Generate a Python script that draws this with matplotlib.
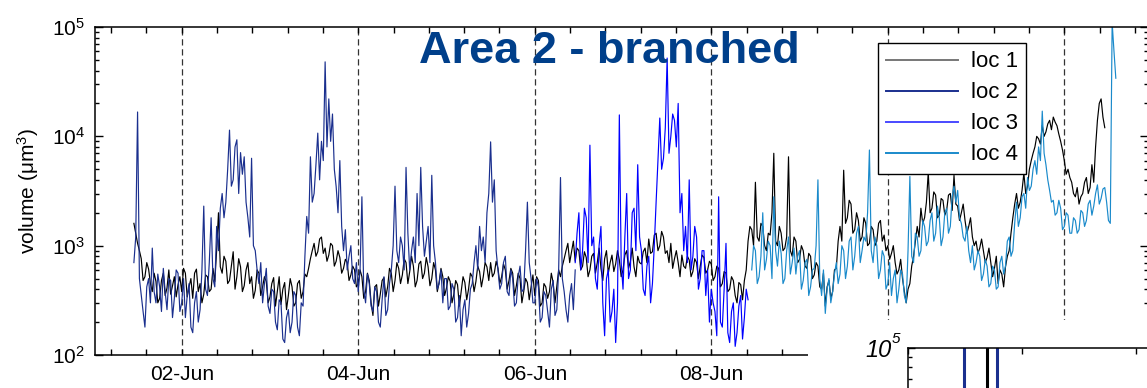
import numpy as np
import matplotlib
matplotlib.use("Agg")
import matplotlib.pyplot as plt
import matplotlib.dates as mdates
from matplotlib.ticker import FixedLocator, FuncFormatter, LogLocator, NullFormatter
from matplotlib.patches import Rectangle
from matplotlib.lines import Line2D

plt.rcParams.update({
    "font.family": ["Liberation Sans", "DejaVu Sans"],
    "mathtext.fontset": "custom",
    "mathtext.rm": "Liberation Sans",
    "mathtext.it": "Liberation Sans:italic",
    "mathtext.bf": "Liberation Sans:bold",
    "mathtext.default": "regular",
})

# ---------------------------------------------------------------- data
# half-hourly volumes (um^3); each series starts at the given hour after 01-Jun 00:00
T0 = np.datetime64("2012-06-01T00:00")
STEP_MIN = 30

loc1_first_hour = 11
loc1 = [
    1600, 1300, 1050, 900, 760, 480, 520, 700, 610, 450, 380, 560, 470, 300, 330, 480,
    560, 350, 410, 600, 360, 430, 520, 340, 440, 520,
    380, 620, 560, 340, 420, 500, 330, 560, 610, 380, 450, 300, 360, 540, 520, 380,
    400, 620, 470, 900, 2000, 640, 560, 800,
    720, 450, 480, 650, 880, 400, 520, 760, 640, 380, 430, 600, 700, 450, 520, 330,
    390, 600, 560, 350, 420, 520, 470, 300,
    340, 450, 510, 280, 380, 520, 290, 400, 460, 260, 350, 500, 420, 280, 300, 450,
    480, 330, 380, 550, 520, 620, 760, 900,
    1050, 800, 880, 1150, 1200, 850, 950, 720, 820, 1050, 1000, 650, 720, 900, 780, 560,
    620, 750, 700, 480, 540, 650, 600, 420,
    450, 600, 520, 330, 380, 560, 480, 300, 230, 420, 440, 280, 360, 480, 510, 340,
    420, 620, 560, 380, 480, 700, 620, 450,
    540, 760, 700, 450, 580, 800, 650, 420, 480, 680, 720, 500, 560, 780, 640, 430,
    500, 700, 600, 380, 460, 620, 520, 350,
    410, 520, 470, 300, 360, 480, 440, 280, 380, 520, 460, 320, 400, 560, 520, 380,
    470, 650, 580, 420, 520, 700, 640, 480,
    700, 520, 560, 720, 620, 450, 520, 680, 600, 400, 480, 620, 560, 350, 430, 560,
    500, 300, 380, 500, 460, 320, 420, 540,
    350, 520, 480, 280, 300, 450, 420, 330, 380, 560, 460, 300, 420, 600, 520, 650,
    760, 900, 1050, 700, 880, 1100, 720, 950,
    900, 600, 650, 880, 780, 520, 600, 800, 850, 560, 700, 950, 620, 480, 760, 900,
    560, 700, 820, 580, 680, 900, 740, 520,
    600, 820, 900, 620, 720, 950, 640, 520, 800, 700, 680, 880, 950, 700, 1150, 850,
    880, 1250, 1300, 900, 1000, 1350, 1200, 850,
    900, 700, 1050, 620, 760, 900, 700, 520, 820, 650, 620, 800, 740, 520, 580, 760,
    700, 500, 650, 820, 780, 560, 600, 720,
    680, 480, 520, 650, 620, 420, 450, 580, 560, 380, 400, 520, 480, 350, 300, 460,
    440, 320, 480, 600, 1100, 1500, 1400, 1000,
    3800, 1200, 1100, 1600, 1500, 1000, 900, 1300, 1250, 2000, 7000, 1100, 1000, 1500, 1300, 900,
    950, 1200, 6500, 900, 800, 1200, 1100, 700,
    750, 1000, 900, 650, 620, 850, 800, 500, 540, 700, 650, 420, 400, 560, 280, 420,
    480, 330, 380, 600, 620, 1100, 1500, 1100,
    4900, 1600, 1800, 2600, 2400, 1300, 1400, 2000, 1700, 1100, 1200, 1800, 1600, 1000, 1050, 1500,
    1400, 1000, 1100, 1600, 1700, 1100, 1250, 900,
    1000, 750, 850, 1000, 700, 550, 600, 750, 500, 380, 300, 400, 450, 650, 800, 1100,
    1500, 1200, 2200, 1600, 1800, 2500, 4700, 2000,
    2200, 3100, 2900, 1800, 1900, 2700, 2600, 1900, 2100, 2900, 3000, 2100, 4400, 2400, 2300, 1700,
    2000, 2400, 1700, 1300, 1500, 1800, 1200, 1000,
    1100, 850, 950, 1150, 900, 700, 780, 950, 700, 520, 620, 800, 450, 600, 550, 420,
    640, 800, 900, 1300, 1800, 2400, 3000, 2200,
    2500, 3200, 4600, 3000, 3500, 5000, 6000, 7000, 8000, 10000, 9500, 8500, 12600, 10000, 11000, 13000,
    14000, 11500, 15000, 13500, 12500, 10500, 9000, 7500,
    6000, 4500, 5000, 4200, 3800, 3000, 2800, 3400, 2400, 2800, 3000, 3800, 4200, 3000, 3400, 5500,
    3800, 8000, 14000, 20000, 22000, 15000, 12000,
]

loc2_first_hour = 11
loc2 = [
    700, 1200, 16700, 500, 350, 250, 180, 420, 500, 300, 950, 380, 300, 550, 420, 250,
    620, 380, 260, 500, 480, 220, 330, 600, 560, 250,
    300, 500, 220, 350, 450, 180, 160, 300, 380, 200, 260, 600, 2300, 400, 350, 700,
    1800, 500, 420, 1500, 900, 2200, 3000, 1800,
    2500, 5000, 11400, 3500, 4000, 8000, 9300, 3000, 7100, 4500, 6500, 2500, 1800, 1200, 6300, 1000,
    900, 600, 450, 700, 300, 450, 620, 280,
    240, 400, 380, 200, 170, 320, 300, 140, 130, 220, 260, 160, 200, 380, 350, 180,
    150, 300, 280, 800, 1850, 1300, 6500, 2500,
    3000, 5500, 10700, 4000, 9000, 6000, 48000, 8000, 22000, 9000, 16000, 5000, 3470, 2000, 6000, 1500,
    900, 1400, 600, 800, 1000, 500, 450, 700,
    380, 600, 2800, 400, 300, 550, 450, 280, 250, 420, 380, 200, 180, 320, 520, 230,
    260, 450, 600, 1000, 3500, 900, 700, 1200,
    1000, 600, 5200, 1300, 600, 900, 1200, 700, 3000, 1000, 5200, 1500, 800, 1100, 1500, 700,
    4400, 1000, 700, 400, 450, 600, 300, 500,
    500, 260, 280, 450, 400, 200, 220, 350, 150, 260, 320, 180, 240, 400, 450, 700,
    1000, 600, 1500, 900, 1200, 700, 2000, 3000,
    8900, 2500, 4000, 900, 600, 400, 450, 700, 800, 380, 350, 600, 500, 280, 300, 520,
    650, 380, 400, 900, 2500, 700, 500, 300,
    300, 500, 420, 200, 220, 380, 350, 250, 180, 400, 480, 230, 260, 600, 4200, 500,
    380, 260, 200, 350, 450, 260, 600,
]

loc3_first_hour = 131
loc3 = [
    700, 1300, 2000, 600, 900, 2200, 1800, 700, 8300, 1000, 1200, 500, 400, 1000, 1500, 300,
    150, 500, 600, 200, 250, 400, 130, 300,
    15700, 700, 400, 1200, 3000, 500, 600, 2000, 2200, 900, 5500, 1200, 900, 400, 350, 650,
    800, 300, 450, 1000, 2500, 6000, 14700, 5000,
    6300, 12000, 52000, 7000, 10000, 16000, 14000, 8000, 20000, 2000, 3000, 900, 1500, 700, 4000, 600,
    800, 1500, 1200, 400, 500, 900, 900, 350,
    600, 200, 400, 300, 250, 150, 2800, 200, 180, 400, 1050, 160, 130, 250, 300, 120,
    160, 280, 350, 140, 220, 400, 320,
]

loc4_first_hour = 179
loc4 = [
    600, 1000, 900, 450, 520, 800, 2000, 600, 750, 1100, 1000, 500, 2800, 900, 650, 1100,
    850, 450, 500, 900, 1200, 550, 700, 950,
    550, 800, 900, 400, 480, 700, 750, 350, 420, 600, 620, 1000, 4000, 500, 350, 600,
    240, 400, 500, 300, 380, 550, 700, 450,
    550, 1000, 900, 500, 650, 1100, 1200, 600, 800, 1300, 1500, 700, 900, 1200, 1100, 2000,
    7500, 900, 700, 1200, 1000, 500, 600, 900,
    800, 400, 450, 700, 350, 500, 600, 300, 400, 600, 550, 350, 300, 900, 4300, 800,
    700, 1300, 1200, 800, 900, 1700, 1500, 1000,
    1100, 1700, 2000, 1100, 1300, 2300, 1800, 1000, 1200, 2000, 2200, 1300, 1500, 2800, 3500, 2500,
    3200, 1800, 1600, 1200, 1100, 1500, 900, 700,
    1000, 600, 700, 900, 800, 480, 550, 750, 650, 420, 450, 650, 600, 400, 420, 700,
    800, 550, 650, 1100, 1200, 800, 900, 1600,
    2500, 1500, 1800, 2800, 3000, 2200, 4200, 3200, 3500, 5000, 6000, 4500, 8000, 6000, 17000, 7000,
    5500, 4000, 3200, 2500, 2600, 1900, 2000, 2600,
    2200, 1400, 1500, 2000, 1900, 1300, 1300, 1800, 1700, 1300, 1400, 2100, 2000, 1500, 1700, 2400,
    2600, 1900, 2300, 3000, 3600, 2400, 2700, 3300,
    3400, 2500, 1700, 1600, 110000, 60000, 34000,
]

series_labels = ["loc 1", "loc 2", "loc 3", "loc 4"]
series_colors = ["#000000", "#1a2f8e", "#0000ff", "#1a8acb"]
legend_colors = ["#777777", "#1a2f8e", "#4a4aff", "#1a8acb"]

marker_days = ["2012-06-02", "2012-06-04", "2012-06-06", "2012-06-08",
               "2012-06-10", "2012-06-12"]

# neighbouring panel (partly shown)
side_x = [0.49, 0.69, 0.78]
side_high = [3e5, 3e5, 3e5]
side_low = [1e3, 1e3, 1e3]
side_colors = ["#1a2f8e", "#000000", "#1a2f8e"]


def sampled(first_hour, values):
    t = (T0 + np.timedelta64(first_hour, "h")
         + np.arange(len(values)) * np.timedelta64(STEP_MIN, "m"))
    return t, np.asarray(values, dtype=float)


# ---------------------------------------------------------------- figure
W, H = 1147, 388
fig = plt.figure(figsize=(W / 100, H / 100), dpi=100)


def fx(px):
    return px / W


def fy(py):
    return 1 - py / H


ax = fig.add_axes([fx(95), fy(355), fx(1148) - fx(95), fy(27) - fy(355)])

for (first, vals), lab, col in zip(
        [(loc1_first_hour, loc1), (loc2_first_hour, loc2),
         (loc3_first_hour, loc3), (loc4_first_hour, loc4)],
        series_labels, series_colors):
    t, v = sampled(first, vals)
    ax.plot(t, v, color=col, lw=0.85, label=lab)

for d in marker_days:
    ax.axvline(np.datetime64(d), color="#333333", lw=0.9, dashes=(5, 3), zorder=0.5)

ax.set_yscale("log")
ax.set_ylim(1e2, 1e5)
x0 = mdates.date2num(np.datetime64("2012-06-01T00:00"))
ax.set_xlim(x0 + 0.0177, x0 + 11.948)

# ticks every 0.4 day, labelled on even days
day2 = mdates.date2num(np.datetime64("2012-06-02"))
ticks = day2 + 0.4 * np.arange(-2, 28)
ax.xaxis.set_major_locator(FixedLocator(ticks))


def fmt_date(x, pos):
    k = (x - day2) / 2
    if abs(k - round(k)) < 1e-6:
        return mdates.num2date(x).strftime("%d-%b")
    return ""


ax.xaxis.set_major_formatter(FuncFormatter(fmt_date))
ax.yaxis.set_major_locator(LogLocator(base=10, numticks=10))
ax.yaxis.set_minor_locator(LogLocator(base=10, subs=np.arange(2, 10), numticks=10))
ax.yaxis.set_minor_formatter(NullFormatter())

ax.tick_params(axis="both", which="both", direction="in", top=True, right=True,
               labelsize=15, width=1.0)
ax.tick_params(axis="x", which="major", length=4.5, pad=7)
ax.tick_params(axis="y", which="major", length=6, pad=7)
ax.tick_params(axis="y", which="minor", length=3)
for s in ax.spines.values():
    s.set_linewidth(1.1)

fig.text(fx(28), fy(191), r"volume ($\mu$m$^3$)", rotation=90, fontsize=15,
         ha="center", va="center")

fig.text(fx(609), fy(63), "Area 2 - branched", fontsize=32.5, fontweight="bold",
         color="#003f8a", ha="center", va="baseline", zorder=5)

handles = [Line2D([], [], color=c, lw=1.4) for c in legend_colors]
leg = ax.legend(handles, series_labels, loc="upper left",
                bbox_to_anchor=(fx(878), fy(43)), bbox_transform=fig.transFigure,
                fontsize=16, frameon=True, fancybox=False, framealpha=1,
                edgecolor="black", borderpad=0.38, labelspacing=0.45,
                handlelength=3.2, handletextpad=0.6, borderaxespad=0)
leg.get_frame().set_linewidth(1.0)

# blank strip beneath the right part of the panel
fig.add_artist(Rectangle((fx(808), 0), 1 - fx(808), fy(320), transform=fig.transFigure,
                         facecolor="white", edgecolor="none", zorder=1))

# neighbouring panel peeking in at the lower right
ax2 = fig.add_axes([fx(908), fy(648), fx(1150) - fx(908), fy(348) - fy(648)], zorder=2)
ax2.set_yscale("log")
ax2.set_ylim(10 ** 3.5, 1e5)
ax2.set_xlim(0, (1150 - 908) / 114)
ax2.vlines(side_x, side_low, side_high, colors=side_colors, lw=2.2)
ax2.set_xticks([0, 1, 2])
ax2.set_xticklabels([])
ax2.set_yticks([1e5])
ax2.set_yticklabels([""])
ax2.yaxis.set_minor_locator(LogLocator(base=10, subs=np.arange(2, 10), numticks=10))
ax2.yaxis.set_minor_formatter(NullFormatter())
ax2.tick_params(axis="both", which="both", direction="in", top=True, right=False, width=1.0)
ax2.tick_params(axis="x", which="major", length=4)
ax2.tick_params(axis="y", which="major", length=5)
ax2.tick_params(axis="y", which="minor", length=3)
for s in ax2.spines.values():
    s.set_linewidth(1.1)

# italic decade label of the neighbouring panel
fig.text(fx(892), fy(357), "10", fontsize=17, fontstyle="italic", ha="right",
         va="baseline", zorder=3)
fig.text(fx(892), fy(343), "5", fontsize=11, fontstyle="italic", ha="left",
         va="baseline", zorder=3)

fig.savefig("out.png", dpi=100)
